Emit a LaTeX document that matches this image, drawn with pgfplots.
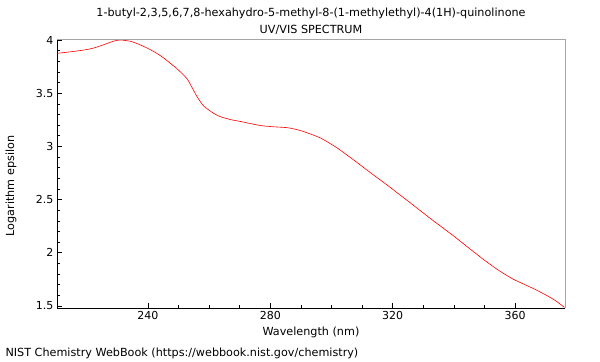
\documentclass[border=0pt]{standalone}
\usepackage{fontspec}
\setmainfont{DejaVu Sans}
\usepackage{pgfplots}
\pgfplotsset{compat=1.18}
\begin{document}
\begin{tikzpicture}[x=1pt,y=1pt]
\path (0,0) rectangle (600,360);
\begin{axis}[
  at={(57pt,52pt)}, anchor=south west,
  width=508pt, height=268pt, scale only axis,
  xmin=210.3, xmax=376.3, ymin=1.48, ymax=4.0,
  axis x line*=bottom, axis y line*=left,
  axis line style={black, line width=0.7pt},
  xtick={240,280,320,360}, ytick={1.5,2,2.5,3,3.5,4},
  yticklabels={1.5,2,2.5,3,3.5,4},
  minor x tick num=3, minor y tick num=4,
  tick align=inside,
  major tick length=5pt, minor tick length=3pt,
  tick style={black, line width=0.5pt},
  ticklabel style={font=\fontsize{11}{13}\selectfont},
  /pgf/number format/assume math mode=true,
  clip=false,
]
\addplot[red, line width=0.6pt, smooth, tension=0.35] coordinates {
(210.4,3.875) (215,3.89) (219.1,3.906) (222,3.922) (225,3.95) (228.9,3.99)
(231,4.0) (234.3,3.988) (237,3.96) (239.7,3.925) (242.5,3.882) (245.2,3.83)
(249.5,3.73) (252.8,3.635) (254.5,3.55) (256.0,3.47) (258.2,3.38) (261.5,3.31)
(263.6,3.28) (266.9,3.252) (270.2,3.234) (276.7,3.196) (281,3.184) (285.4,3.176)
(288,3.162) (290.8,3.14) (296.3,3.08) (301.7,2.988) (307.1,2.875) (312.6,2.755)
(318.0,2.64) (322.3,2.545) (328.9,2.398) (333.2,2.302) (339.7,2.162) (344.6,2.05)
(349.5,1.94) (354.4,1.838) (359.3,1.752) (365.8,1.665) (370.2,1.6) (373.4,1.545) (376.1,1.486)
};
\draw[gray!70, line width=1pt] (rel axis cs:0,1) -- (rel axis cs:1,1) -- (rel axis cs:1,0);
\end{axis}
\node[font=\fontsize{11.2}{13}\selectfont] at (311,347) {1-butyl-2,3,5,6,7,8-hexahydro-5-methyl-8-(1-methylethyl)-4(1H)-quinolinone};
\node[font=\fontsize{11.2}{13}\selectfont] at (311,330) {UV/VIS SPECTRUM};
\node[font=\fontsize{11.2}{13}\selectfont] at (311,28) {Wavelength (nm)};
\node[font=\fontsize{11.2}{13}\selectfont, rotate=90] at (11,174) {Logarithm epsilon};
\node[font=\fontsize{11.2}{13}\selectfont, anchor=west] at (2,7) {NIST Chemistry WebBook (https://webbook.nist.gov/chemistry)};
\end{tikzpicture}
\end{document}
